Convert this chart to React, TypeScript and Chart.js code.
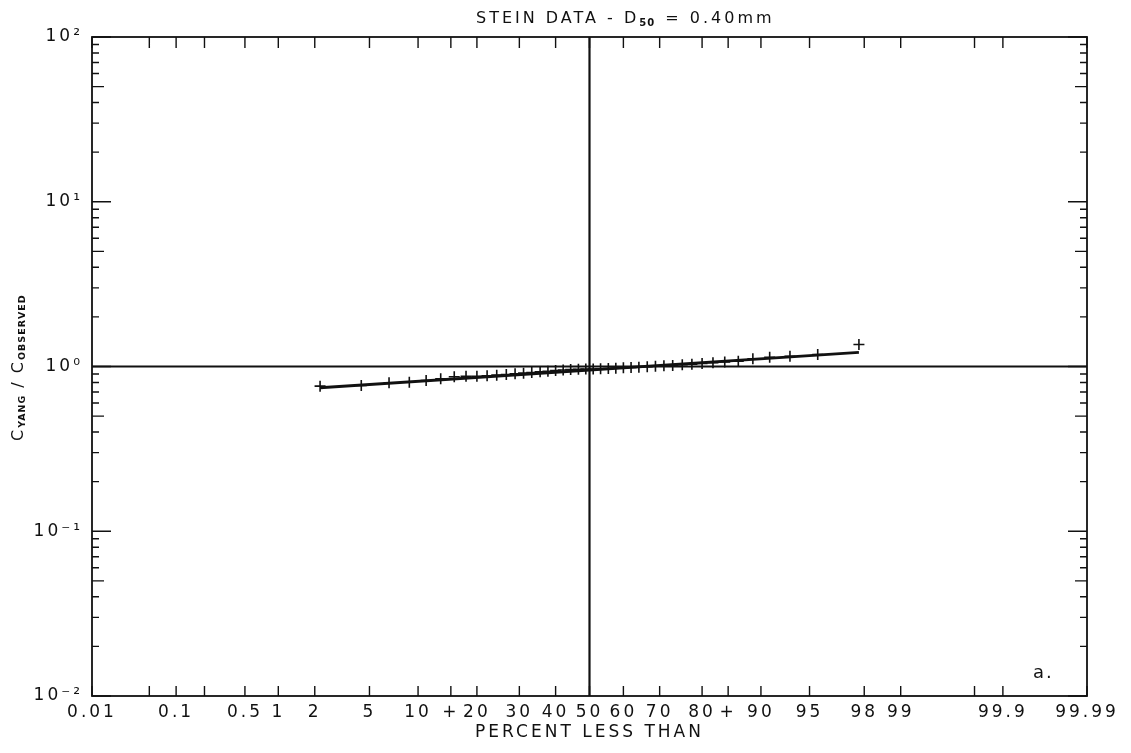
import React, { useEffect, useRef } from "react";
import { Chart, registerables } from "chart.js";

Chart.register(...registerables);

// ---- data ----
const PCT_LESS_THAN = [
  2.2, 4.4, 6.7, 8.9, 11.1, 13.3, 15.6, 17.8, 20.0, 22.2, 24.4, 26.7, 28.9, 31.1, 33.3,
  35.6, 37.8, 40.0, 42.2, 44.4, 46.7, 48.9, 51.1, 53.3, 55.6, 57.8, 60.0, 62.2, 64.4, 66.7,
  68.9, 71.1, 73.3, 75.6, 77.8, 80.0, 82.2, 84.4, 86.7, 88.9, 91.1, 93.3, 95.6, 97.8,
];
const RATIO = [
  0.760, 0.767, 0.797, 0.803, 0.823, 0.842, 0.866, 0.873, 0.873, 0.878, 0.886, 0.894, 0.903, 0.911, 0.920,
  0.929, 0.936, 0.946, 0.952, 0.959, 0.963, 0.966, 0.966, 0.968, 0.972, 0.976, 0.982, 0.986, 0.990, 0.996,
  1.004, 1.010, 1.014, 1.024, 1.033, 1.043, 1.053, 1.065, 1.077, 1.113, 1.139, 1.155, 1.182, 1.359,
];
const FIT_PCT = [2.2, 97.8];
const FIT_RATIO = [0.743, 1.22];

const X_TICK_PCT = [0.01, 0.05, 0.1, 0.2, 0.5, 1, 2, 5, 10, 15, 20, 30, 40, 50, 60, 70, 80, 85, 90, 95, 98, 99, 99.8, 99.9, 99.99];
const X_TICK_LABELS = ["0.01", "", "0.1", "", "0.5", "1", "2", "5", "10", "+", "20", "30", "40", "50", "60", "70", "80", "+", "90", "95", "98", "99", "", "99.9", "99.99"];
const Y_TICK_VALUES = [0.01, 0.1, 1, 10, 100];
const Y_TICK_LABELS = ["10⁻²", "10⁻¹", "10⁰", "10¹", "10²"];

const X_MIN_PCT = 0.01;
const X_MAX_PCT = 99.99;
const Y_MIN = 0.01;
const Y_MAX = 100;
const REF_PCT = 50;
const REF_RATIO = 1;

const TITLE_MAIN = "STEIN DATA - D";
const TITLE_SUB = "50";
const TITLE_END = " = 0.40mm";
const X_TITLE = "PERCENT LESS THAN";
const PANEL_LABEL = "a.";

const FONT = "'DejaVu Sans', sans-serif";
const INK = "#111111";

// inverse standard normal CDF (probability-paper scale)
function probit(p: number): number {
  const a = [-3.969683028665376e1, 2.209460984245205e2, -2.759285104469687e2, 1.38357751867269e2, -3.066479806614716e1, 2.506628277459239];
  const b = [-5.447609879822406e1, 1.615858368580409e2, -1.556989798598866e2, 6.680131188771972e1, -1.328068155288572e1];
  const c = [-7.784894002430293e-3, -3.223964580411365e-1, -2.400758277161838, -2.549732539343734, 4.374664141464968, 2.938163982698783];
  const d = [7.784695709041462e-3, 3.224671290700398e-1, 2.445134137142996, 3.754408661907416];
  const pl = 0.02425;
  if (p < pl) {
    const q = Math.sqrt(-2 * Math.log(p));
    return (((((c[0] * q + c[1]) * q + c[2]) * q + c[3]) * q + c[4]) * q + c[5]) / ((((d[0] * q + d[1]) * q + d[2]) * q + d[3]) * q + 1);
  }
  if (p <= 1 - pl) {
    const q = p - 0.5;
    const r = q * q;
    return ((((((a[0] * r + a[1]) * r + a[2]) * r + a[3]) * r + a[4]) * r + a[5]) * q) / (((((b[0] * r + b[1]) * r + b[2]) * r + b[3]) * r + b[4]) * r + 1);
  }
  const q = Math.sqrt(-2 * Math.log(1 - p));
  return -(((((c[0] * q + c[1]) * q + c[2]) * q + c[3]) * q + c[4]) * q + c[5]) / ((((d[0] * q + d[1]) * q + d[2]) * q + d[3]) * q + 1);
}
const z = (pct: number) => probit(pct / 100);

const decorPlugin = {
  id: "decor",
  beforeUpdate(chart: any) {
    chart.ctx.letterSpacing = "3px";
  },
  beforeDraw(chart: any) {
    const ctx = chart.ctx;
    ctx.save();
    ctx.fillStyle = "#ffffff";
    ctx.fillRect(0, 0, chart.width, chart.height);
    ctx.restore();
    ctx.letterSpacing = "3px";
  },
  afterDraw(chart: any) {
    const ctx = chart.ctx;
    const { left, right, top, bottom } = chart.chartArea;
    const xs = chart.scales.x;
    const ys = chart.scales.y;
    ctx.save();
    ctx.strokeStyle = INK;
    ctx.fillStyle = INK;
    // frame
    ctx.lineWidth = 1.8;
    ctx.strokeRect(left, top, right - left, bottom - top);
    // x ticks (inward, bottom and top)
    ctx.lineWidth = 1.4;
    ctx.beginPath();
    X_TICK_PCT.forEach((p) => {
      const px = xs.getPixelForValue(z(p));
      ctx.moveTo(px, bottom);
      ctx.lineTo(px, bottom - 10);
      ctx.moveTo(px, top);
      ctx.lineTo(px, top + 11);
    });
    // y ticks (inward, left and right)
    for (let e = -2; e <= 2; e++) {
      for (let m = 1; m <= 9; m++) {
        if (e === 2 && m > 1) break;
        const v = m * Math.pow(10, e);
        const py = ys.getPixelForValue(v);
        const len = m === 1 ? 19 : m === 5 ? 12 : 7;
        ctx.moveTo(left, py);
        ctx.lineTo(left + len, py);
        ctx.moveTo(right, py);
        ctx.lineTo(right - len, py);
      }
    }
    ctx.stroke();

    // title with subscript
    ctx.letterSpacing = "3px";
    ctx.textBaseline = "alphabetic";
    ctx.textAlign = "left";
    let tx = 476;
    const ty = 23;
    ctx.font = `16px ${FONT}`;
    ctx.fillText(TITLE_MAIN, tx, ty);
    tx += ctx.measureText(TITLE_MAIN).width;
    ctx.font = `bold 10px ${FONT}`;
    ctx.letterSpacing = "1px";
    ctx.fillText(TITLE_SUB, tx, ty + 3);
    tx += ctx.measureText(TITLE_SUB).width + 2;
    ctx.letterSpacing = "3px";
    ctx.font = `16px ${FONT}`;
    ctx.fillText(TITLE_END, tx, ty);

    // y-axis title, rotated
    ctx.save();
    ctx.translate(23, 441);
    ctx.rotate(-Math.PI / 2);
    let ax = 0;
    const part = (t: string, big: boolean) => {
      ctx.font = big ? `16px ${FONT}` : `bold 9.5px ${FONT}`;
      ctx.letterSpacing = big ? "2px" : "1px";
      ctx.fillText(t, ax, big ? 0 : 2);
      ax += ctx.measureText(t).width;
    };
    part("C", true);
    part("YANG", false);
    part(" / ", true);
    part("C", true);
    part("OBSERVED", false);
    ctx.restore();

    // panel label
    ctx.letterSpacing = "2px";
    ctx.font = `18px ${FONT}`;
    ctx.textAlign = "left";
    ctx.fillText(PANEL_LABEL, right - 54, bottom - 18);
    ctx.restore();
  },
};

export default function App() {
  const ref = useRef<HTMLCanvasElement | null>(null);

  useEffect(() => {
    if (!ref.current) return;
    const scatter = PCT_LESS_THAN.map((p, i) => ({ x: z(p), y: RATIO[i] }));
    const fit = FIT_PCT.map((p, i) => ({ x: z(p), y: FIT_RATIO[i] }));
    const hRef = [
      { x: z(X_MIN_PCT), y: REF_RATIO },
      { x: z(X_MAX_PCT), y: REF_RATIO },
    ];
    const vRef = [
      { x: z(REF_PCT), y: Y_MIN },
      { x: z(REF_PCT), y: Y_MAX },
    ];
    const chart = new Chart(ref.current, {
      type: "scatter",
      data: {
        datasets: [
          { data: hRef, showLine: true, borderColor: INK, borderWidth: 2.2, pointRadius: 0 },
          { data: vRef, showLine: true, borderColor: INK, borderWidth: 2.2, pointRadius: 0 },
          { data: fit, showLine: true, borderColor: INK, borderWidth: 2.8, pointRadius: 0 },
          {
            data: scatter,
            showLine: false,
            pointStyle: "cross",
            pointRadius: 5.5,
            borderColor: INK,
            backgroundColor: INK,
            pointBorderWidth: 1.6,
            borderWidth: 1.6,
          },
        ],
      },
      options: {
        responsive: false,
        animation: false,
        layout: { padding: { left: 0, top: 37, right: 44, bottom: 0 } },
        plugins: { legend: { display: false }, tooltip: { enabled: false }, title: { display: false } },
        scales: {
          x: {
            type: "linear",
            min: z(X_MIN_PCT),
            max: z(X_MAX_PCT),
            grid: { display: false, drawTicks: false },
            border: { display: false },
            afterBuildTicks: (s: any) => {
              s.ticks = X_TICK_PCT.map((p) => ({ value: z(p) }));
            },
            afterFit: (s: any) => {
              s.height = 57;
            },
            ticks: {
              autoSkip: false,
              maxRotation: 0,
              minRotation: 0,
              padding: 6,
              color: INK,
              font: { family: FONT, size: 17 },
              callback: (_v: any, i: number) => X_TICK_LABELS[i],
            },
            title: {
              display: true,
              text: X_TITLE,
              color: INK,
              font: { family: FONT, size: 17 },
              padding: { top: 0, bottom: 10 },
            },
          },
          y: {
            type: "logarithmic",
            min: Y_MIN,
            max: Y_MAX,
            grid: { display: false, drawTicks: false },
            border: { display: false },
            afterBuildTicks: (s: any) => {
              s.ticks = Y_TICK_VALUES.map((v) => ({ value: v }));
            },
            afterFit: (s: any) => {
              s.width = 92;
            },
            ticks: {
              autoSkip: false,
              padding: 9,
              color: INK,
              font: { family: FONT, size: 17 },
              callback: (_v: any, i: number) => Y_TICK_LABELS[i],
            },
          },
        },
      },
      plugins: [decorPlugin],
    } as any);
    return () => chart.destroy();
  }, []);

  return (
    <div style={{ position: "fixed", left: 0, top: 0, width: 1131, height: 753, background: "#fff" }}>
      <canvas ref={ref} width={1131} height={753} style={{ width: 1131, height: 753, display: "block" }} />
    </div>
  );
}
